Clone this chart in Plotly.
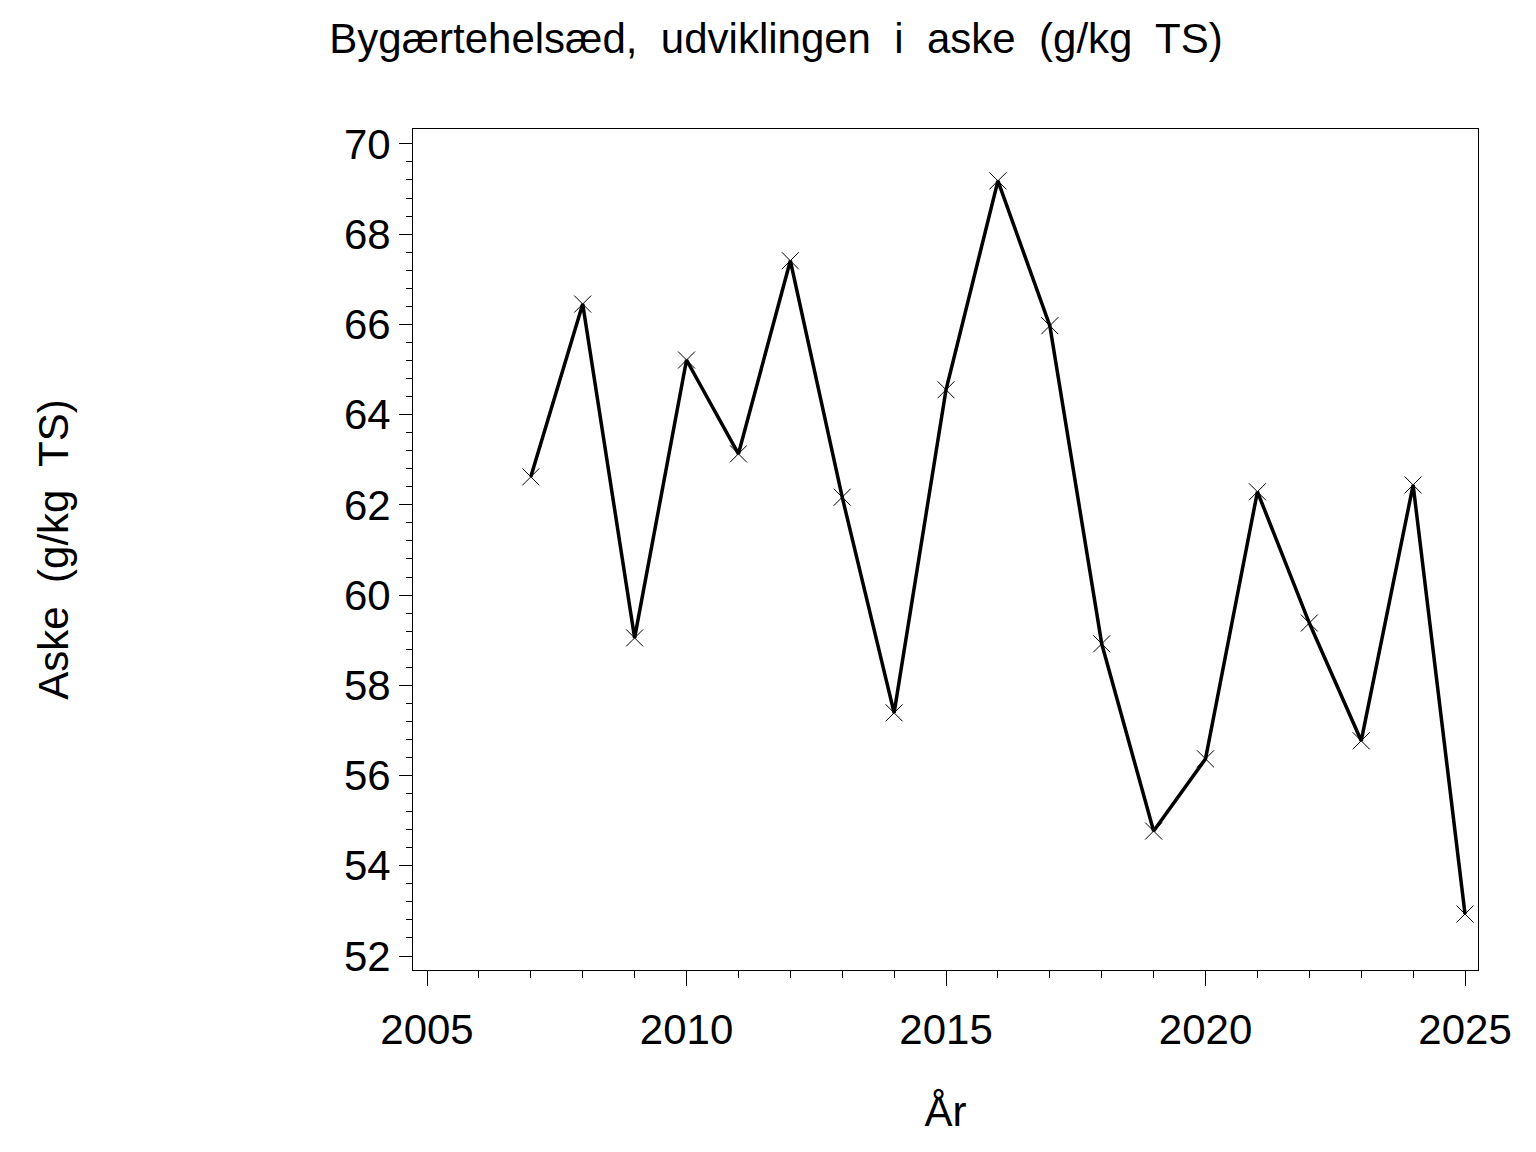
import plotly.graph_objects as go

years = [2007, 2008, 2009, 2010, 2011, 2012, 2013, 2014, 2015, 2016,
         2017, 2018, 2019, 2020, 2021, 2022, 2023, 2024, 2025]
aske = [62.62, 66.45, 59.05, 65.21, 63.13, 67.41, 62.17, 57.39, 64.55, 69.18,
        65.97, 58.92, 54.77, 56.37, 62.29, 59.38, 56.77, 62.44, 52.93]

title_text = "Bygærtehelsæd,  udviklingen  i  aske  (g/kg  TS)"
x_title = "År"
y_title = "Aske  (g/kg  TS)"

FONT = "Liberation Sans, Arial, sans-serif"

fig = go.Figure()
fig.add_trace(go.Scatter(
    x=years, y=aske, mode="lines+markers",
    line=dict(color="black", width=3.5),
    marker=dict(symbol="x-thin", size=17, line=dict(color="black", width=1), color="black"),
    showlegend=False,
))

fig.update_layout(
    width=1536, height=1152,
    paper_bgcolor="white", plot_bgcolor="white",
    margin=dict(l=405, r=66, t=121, b=190),
    font=dict(family=FONT, color="black", size=42),
    title=dict(text=title_text, x=0.5, xanchor="center", y=0.974, yanchor="middle",
               font=dict(family=FONT, size=42, color="black")),
)

fig.update_xaxes(
    range=[2004.73, 2025.25], tickmode="array", tickvals=[2005, 2010, 2015, 2020, 2025],
    ticktext=["2005", "2010", "2015", "2020", "2025"],
    ticks="outside", ticklen=15, tickwidth=1, tickcolor="black",
    minor=dict(tick0=2005, dtick=1, ticks="outside", ticklen=7, tickwidth=1, tickcolor="black"),
    showline=True, linecolor="black", linewidth=1, mirror=True,
    showgrid=False, zeroline=False,
    tickfont=dict(size=42), ticklabelstandoff=8,
    title=dict(text=x_title, font=dict(size=42), standoff=44),
    automargin=False,
)
fig.update_yaxes(
    range=[51.69, 70.33], tickmode="array", tickvals=[52, 54, 56, 58, 60, 62, 64, 66, 68, 70],
    ticks="outside", ticklen=13, tickwidth=1, tickcolor="black",
    minor=dict(tick0=52, dtick=0.4, ticks="outside", ticklen=6, tickwidth=1, tickcolor="black"),
    showline=True, linecolor="black", linewidth=1, mirror=True,
    showgrid=False, zeroline=False,
    tickfont=dict(size=42),
    title=dict(text=y_title, font=dict(size=42), standoff=262),
    automargin=False,
)

fig.write_html("out.html")
